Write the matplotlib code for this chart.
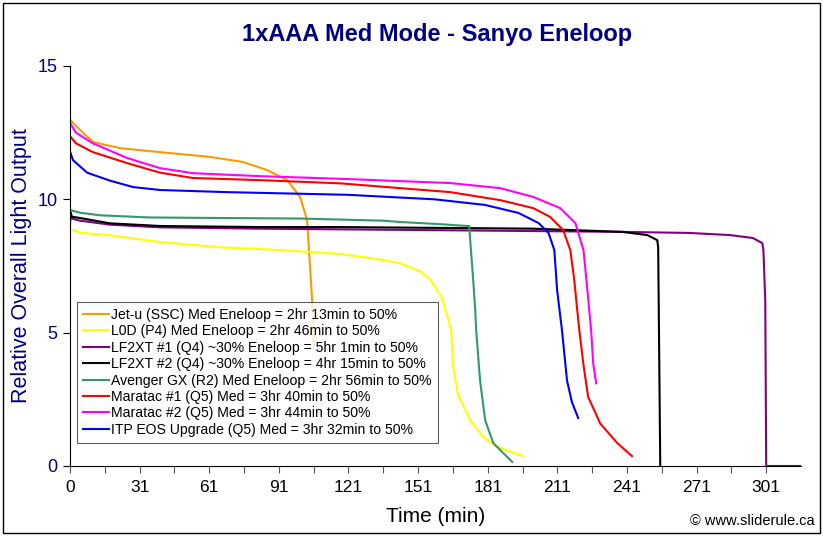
import numpy as np
import matplotlib
matplotlib.use('Agg')
import matplotlib.pyplot as plt
from matplotlib.patches import Rectangle

plt.rcParams['font.family'] = ['Liberation Sans', 'DejaVu Sans']

# ---- data (time in min, relative output) ----
jetu_t = [0, 1.3, 9.9, 21.6, 38.9, 60.6, 74.8, 85.2, 93.9, 99.5, 102.5, 103.4, 104.7, 105.5]
jetu_y = [13.0, 12.86, 12.15, 11.92, 11.77, 11.59, 11.4, 11.1, 10.72, 10.09, 9.22, 8.0, 6.2, 4.5]

l0d_t = [0, 4.3, 17.3, 38.9, 64.9, 90.8, 116.8, 134, 142.7, 151.4, 155.7, 160.9, 164.8,
         165.7, 167.8, 173, 178.6, 184.7, 195.9]
l0d_y = [8.9, 8.75, 8.65, 8.4, 8.2, 8.1, 7.95, 7.75, 7.6, 7.3, 7.0, 6.3, 5.1,
         3.7, 2.66, 1.72, 1.1, 0.72, 0.37]

lf1_t = [0, 4.3, 17.3, 39, 82, 150, 238.6, 267.6, 285.3, 295.2, 299.3, 299.8, 300.6, 301, 316]
lf1_y = [9.3, 9.2, 9.05, 8.95, 8.9, 8.85, 8.78, 8.74, 8.66, 8.55, 8.36, 8.1, 6.2, 0, 0]

lf2_t = [0, 0.3, 0.8, 4.3, 17.3, 39, 82, 117, 200, 238.6, 249.6, 253.9, 254.3, 255.2]
lf2_y = [9.1, 9.5, 9.35, 9.3, 9.1, 9.0, 8.96, 8.96, 8.9, 8.78, 8.66, 8.47, 8.2, 0]

avg_t = [0, 4.3, 13, 34.6, 65, 99.5, 135.4, 142.7, 160, 171.7, 172.6, 173, 174.3, 175.2,
         175.6, 177.3, 179.5, 183, 191.2]
avg_y = [9.6, 9.5, 9.4, 9.32, 9.3, 9.28, 9.2, 9.15, 9.07, 9.0, 9.0, 8.5, 7.0, 5.85,
         5.1, 3.2, 1.72, 0.86, 0.15]

mar1_t = [0, 2.6, 9.9, 24.6, 38.9, 53.2, 82, 116.8, 142.7, 164.4, 186, 200.3, 207.6,
          213.2, 216.3, 218, 219.3, 220.2, 221.9, 224, 229.2, 236.6, 243]
mar1_y = [12.37, 12.1, 11.77, 11.36, 11.0, 10.8, 10.72, 10.6, 10.42, 10.27, 9.97, 9.67, 9.34,
          8.85, 8.1, 7.0, 5.85, 5.1, 3.86, 2.6, 1.6, 0.86, 0.37]

mar2_t = [0, 2.6, 9.9, 24.7, 38.9, 53.2, 82, 120, 164.4, 186, 200.3, 212, 218.5, 222,
          223.7, 225.3, 226.2, 227.5]
mar2_y = [12.86, 12.5, 12.1, 11.55, 11.17, 10.98, 10.87, 10.76, 10.61, 10.42, 10.09, 9.67,
          9.11, 8.1, 6.6, 5.1, 3.86, 3.1]

itp_t = [0, 1.3, 7.4, 17.3, 27.3, 38.9, 67.9, 120, 157.7, 179.4, 193.9, 202.6, 206.9,
         209.4, 210.6, 212.7, 214.9, 217, 219.7]
itp_y = [11.8, 11.47, 11.0, 10.7, 10.46, 10.35, 10.27, 10.17, 10.0, 9.79, 9.49, 9.11, 8.74,
         8.1, 6.6, 5.1, 3.2, 2.4, 1.8]

labels = ['Jet-u (SSC) Med Eneloop = 2hr 13min to 50%',
          'L0D (P4) Med Eneloop = 2hr 46min to 50%',
          'LF2XT #1 (Q4) ~30% Eneloop = 5hr 1min to 50%',
          'LF2XT #2 (Q4) ~30% Eneloop = 4hr 15min to 50%',
          'Avenger GX (R2) Med Eneloop = 2hr 56min to 50%',
          'Maratac #1 (Q5) Med = 3hr 40min to 50%',
          'Maratac #2 (Q5) Med = 3hr 44min to 50%',
          'ITP EOS Upgrade (Q5) Med = 3hr 32min to 50%']
colors = ['#FF9900', '#FFFF00', '#800080', '#000000', '#339966', '#FF0000', '#FF00FF', '#0000FF']

xtick_labels = ['0', '31', '61', '91', '121', '151', '181', '211', '241', '271', '301']

series = [(jetu_t, jetu_y), (l0d_t, l0d_y), (lf1_t, lf1_y), (lf2_t, lf2_y),
          (avg_t, avg_y), (mar1_t, mar1_y), (mar2_t, mar2_y), (itp_t, itp_y)]

navy = '#000080'

fig = plt.figure(figsize=(8.23, 5.36), dpi=100)
ax = fig.add_axes([70/823, 70/536, 731/823, 400/536])

for (t, y), lab, c in zip(series, labels, colors):
    ax.plot(t, y, color=c, lw=1.5, label=lab)

step = 30.1
ax.set_xlim(0, 301 + step/2)
ax.set_ylim(0, 15)
ticks = np.arange(0, 21) * step / 2
ax.set_xticks(ticks)
ax.set_xticklabels([xtick_labels[i//2] if i % 2 == 0 else '' for i in range(len(ticks))],
                   fontsize=12.5)
ax.set_yticks([0, 5, 10, 15])
ax.tick_params(axis='y', labelsize=13, labelcolor=navy, length=5, width=0.8, pad=4)
ax.tick_params(axis='x', length=5, width=0.8, color='#555555', pad=5)
ax.spines['top'].set_visible(False)
ax.spines['right'].set_visible(False)

ax.set_xlabel('Time (min)', fontsize=15, labelpad=9)
ax.set_ylabel('Relative Overall Light Output', fontsize=15.5, color=navy, labelpad=4)
fig.text(437/823, 1 - 35/536, '1xAAA Med Mode - Sanyo Eneloop', ha='center', va='center',
         fontsize=17, fontweight='bold', color=navy)
fig.text(815/823, 1 - 521/536, '\u00a9 www.sliderule.ca', ha='right', va='center', fontsize=10.5)

leg = ax.legend(loc='lower left', bbox_to_anchor=(7/731, 23/400), borderaxespad=0,
                fontsize=10.1, frameon=True, fancybox=False, handlelength=1.8,
                handletextpad=0.2, labelspacing=0.17, borderpad=0.45)
leg.get_frame().set_edgecolor('#333333')
leg.get_frame().set_linewidth(0.8)

fig.patches.append(Rectangle((3/823, 3/536), 817/823, 530/536, transform=fig.transFigure,
                             fill=False, edgecolor='black', lw=1))

fig.savefig('out.png', dpi=100)
